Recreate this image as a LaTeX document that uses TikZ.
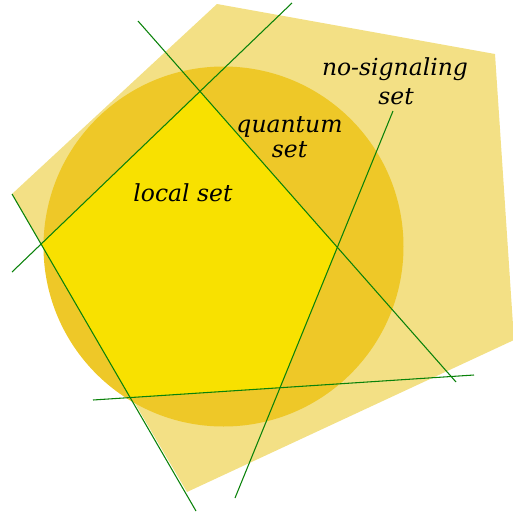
\documentclass[tikz,border=0pt]{standalone}
\usepackage{fontspec}
\newfontfamily\labelfont{DejaVu Serif}
\definecolor{nscol}{RGB}{243,224,133}
\definecolor{qcol}{RGB}{238,200,40}
\definecolor{lcol}{RGB}{248,225,0}
\definecolor{lincol}{RGB}{10,130,10}
\tikzset{
  facet/.style={draw=lincol, line width=0.8pt},
  lbl/.style={anchor=base, inner sep=0pt, font=\labelfont\itshape\fontsize{17.6}{21}\selectfont}
}
\begin{document}
\begin{tikzpicture}[x=0.75pt,y=-0.75pt]
\useasboundingbox (0,0) rectangle (513,515);
% no-signaling polytope
\fill[nscol] (217,4) -- (495,54) -- (514,340) -- (187,492) -- (12,194) -- cycle;
% quantum set
\fill[qcol] (223.5,246.5) circle[radius=180];
% facet line end points
\coordinate (a1) at (138,21);  \coordinate (a2) at (456,382);
\coordinate (b1) at (12,272);  \coordinate (b2) at (292,3);
\coordinate (c1) at (12,194);  \coordinate (c2) at (196,511);
\coordinate (d1) at (93,400);  \coordinate (d2) at (474,375);
\coordinate (e1) at (393,111); \coordinate (e2) at (235,498);
% local polytope
\fill[lcol] (intersection of a1--a2 and b1--b2)
  -- (intersection of b1--b2 and c1--c2)
  -- (intersection of c1--c2 and d1--d2)
  -- (intersection of d1--d2 and e1--e2)
  -- (intersection of e1--e2 and a1--a2) -- cycle;
% facet lines
\draw[facet] (a1) -- (a2);
\draw[facet] (b1) -- (b2);
\draw[facet] (c1) -- (c2);
\draw[facet] (d1) -- (d2);
\draw[facet] (e1) -- (e2);
% labels
\node[lbl] (loc) at (183,201) {local set};
\node[lbl] (q1) at (289.5,132) {quantum};
\node[lbl] (q2) at (289.5,157.5) {set};
\node[lbl] (ns1) at (395,75) {no-signaling};
\node[lbl] (ns2) at (396,104) {set};
\end{tikzpicture}
\end{document}
